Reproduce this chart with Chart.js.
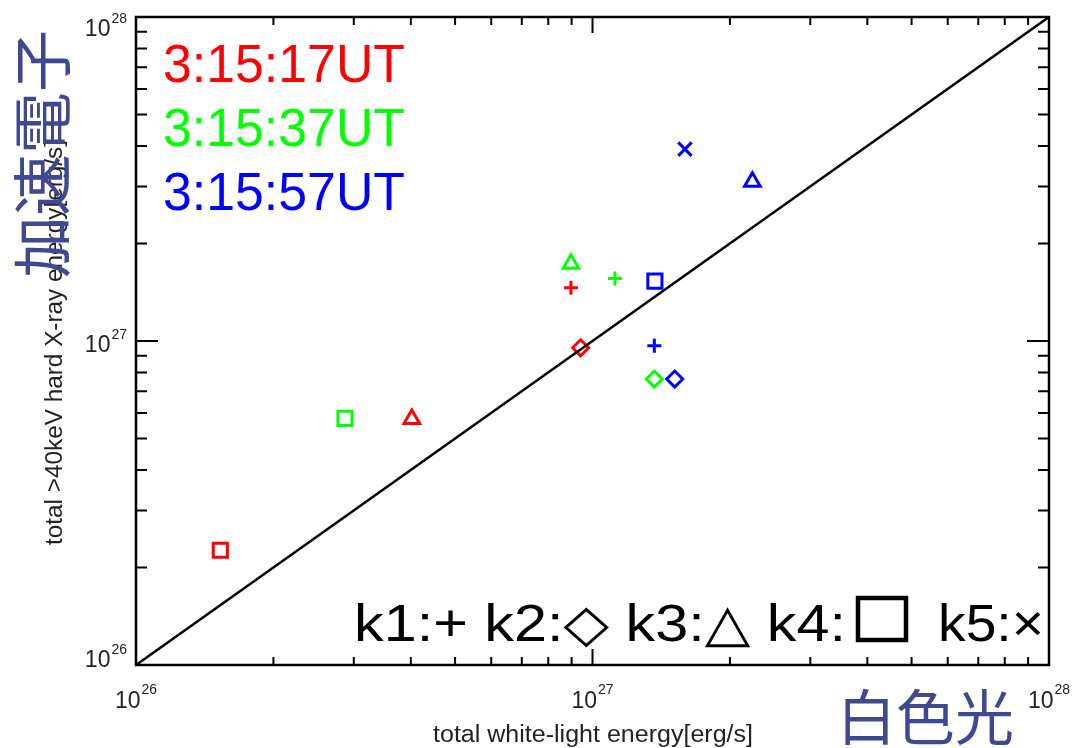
<!DOCTYPE html>
<html>
<head>
<meta charset="utf-8">
<script src="https://cdn.jsdelivr.net/npm/chart.js@4.4.0/dist/chart.umd.min.js"></script>
<style>
body { margin: 0; background: #fff; }
</style>
</head>
<body>
<canvas id="myChart" width="1073" height="748"></canvas>
<script>
// k1..k5 markers, one series per time
const kinds = ['k1', 'k2', 'k3', 'k4', 'k5'];
const kindStyles = ['cross', 'rectRot', 'triangle', 'rect', 'crossRot'];
const kindRadius = [7, 8, 9, 10, 9.5];

const times = ['3:15:17UT', '3:15:37UT', '3:15:57UT'];
const timeColors = ['#ff0000', '#00ff00', '#0000ff'];

// white-light energy (x) and >40keV HXR energy (y), erg/s
const redX = [8.97e26, 9.42e26, 4.02e26, 1.53e26, null];
const redY = [1.46e27, 9.53e26, 5.74e26, 2.26e26, null];
const greenX = [1.12e27, 1.366e27, 8.97e26, 2.87e26, null];
const greenY = [1.56e27, 7.63e26, 1.73e27, 5.77e26, null];
const blueX = [1.366e27, 1.514e27, 2.24e27, 1.37e27, 1.594e27];
const blueY = [9.67e26, 7.63e26, 3.1e27, 1.53e27, 3.91e27];

const decadeValues = [1e26, 1e27, 1e28];
const decadeExps = ['26', '27', '28'];

const xTitle = 'total white-light energy[erg/s]';
const yTitle = 'total >40keV hard X-ray energy[erg/s]';
const xTitleJa = '白色光';
const yTitleJa = '加速電子';
const titleJaColor = '#3f4890';

function makeSeries(xs, ys, label, color) {
	const pts = [];
	const styles = [];
	const radii = [];
	for (let i = 0; i < kinds.length; i++) {
		if (xs[i] === null) continue;
		pts.push({ x: xs[i], y: ys[i] });
		styles.push(kindStyles[i]);
		radii.push(kindRadius[i]);
	}
	return {
		label: label,
		data: pts,
		showLine: false,
		pointStyle: styles,
		pointRadius: radii,
		pointBorderWidth: 3,
		borderWidth: 3,
		borderColor: color,
		backgroundColor: 'rgba(0,0,0,0)'
	};
}

// draw text squeezed/stretched to a given width
function fitText(ctx, str, x, y, w) {
	const m = ctx.measureText(str).width;
	ctx.save();
	ctx.translate(x, y);
	ctx.scale(w / m, 1);
	ctx.fillText(str, 0, 0);
	ctx.restore();
}

const framePlugin = {
	id: 'frame',
	afterDraw(chart) {
		const { ctx, chartArea: a, scales } = chart;
		const xs = scales.x;
		const ys = scales.y;
		ctx.save();
		ctx.strokeStyle = '#000';

		// inside ticks on all four sides
		ctx.lineWidth = 2;
		ctx.beginPath();
		for (let d = 26; d <= 28; d++) {
			for (let m = 1; m <= 9; m++) {
				if (d === 28 && m > 1) break;
				const v = m * Math.pow(10, d);
				const major = m === 1;
				const px = xs.getPixelForValue(v);
				const py = ys.getPixelForValue(v);
				const lx = major ? 16 : 8;
				const ly = major ? 22 : 11;
				ctx.moveTo(px, a.bottom); ctx.lineTo(px, a.bottom - lx);
				ctx.moveTo(px, a.top); ctx.lineTo(px, a.top + lx);
				ctx.moveTo(a.left, py); ctx.lineTo(a.left + ly, py);
				ctx.moveTo(a.right, py); ctx.lineTo(a.right - ly, py);
			}
		}
		ctx.stroke();

		ctx.lineWidth = 2.5;
		ctx.strokeRect(a.left, a.top, a.right - a.left, a.bottom - a.top);

		// tick labels 10^n
		ctx.fillStyle = '#222';
		ctx.textBaseline = 'alphabetic';
		const bigFont = '23px "Liberation Sans", Arial, sans-serif';
		const supFont = '14px "Liberation Sans", Arial, sans-serif';
		for (let i = 0; i < decadeValues.length; i++) {
			ctx.font = bigFont;
			const w10 = ctx.measureText('10').width;
			ctx.font = supFont;
			const wExp = ctx.measureText(decadeExps[i]).width;
			const total = w10 + wExp + 1;

			// x axis
			const px = xs.getPixelForValue(decadeValues[i]);
			const bx = px - total / 2;
			ctx.textAlign = 'left';
			ctx.font = bigFont;
			ctx.fillText('10', bx, 708);
			ctx.font = supFont;
			ctx.fillText(decadeExps[i], bx + w10 + 1, 694);

			// y axis, centred on tick but kept inside the frame
			const py = ys.getPixelForValue(decadeValues[i]);
			let base = py + 11;
			base = Math.max(base, a.top + 19);
			base = Math.min(base, a.bottom + 2);
			const rx = a.left - 9;
			ctx.font = supFont;
			ctx.fillText(decadeExps[i], rx - wExp, base - 13);
			ctx.font = bigFont;
			ctx.fillText('10', rx - wExp - 1 - w10, base);
		}

		// axis titles
		ctx.fillStyle = '#222';
		ctx.font = '23px "Liberation Sans", Arial, sans-serif';
		ctx.textAlign = 'left';
		fitText(ctx, xTitle, 433, 742, 320);
		ctx.save();
		ctx.translate(62, 545);
		ctx.rotate(-Math.PI / 2);
		fitText(ctx, yTitle, 0, 0, 405);
		ctx.restore();

		// japanese titles
		ctx.fillStyle = titleJaColor;
		ctx.font = '60px "Noto Sans CJK JP", sans-serif';
		ctx.textBaseline = 'middle';
		fitText(ctx, xTitleJa, 837, 717, 177);
		ctx.save();
		ctx.translate(42, 278);
		ctx.rotate(-Math.PI / 2);
		fitText(ctx, yTitleJa, 0, 0, 248);
		ctx.restore();

		// time legend
		ctx.textBaseline = 'alphabetic';
		ctx.font = '53px "Liberation Sans", "DejaVu Sans", sans-serif';
		for (let i = 0; i < times.length; i++) {
			ctx.fillStyle = timeColors[i];
			fitText(ctx, times[i], 163, 82 + i * 64, 242);
		}

		// marker legend
		ctx.fillStyle = '#000';
		ctx.font = '52px "Liberation Sans", "DejaVu Sans", sans-serif';
		fitText(ctx, 'k1:+ k2:\u25C7 k3:\u25B3 k4:', 354, 641, 492);
		ctx.lineWidth = 4.5;
		ctx.strokeRect(858, 598, 48, 42);
		fitText(ctx, 'k5:\u00D7', 938, 641, 106);

		ctx.restore();
	}
};

const ctx = document.getElementById('myChart');

new Chart(ctx, {
	type: 'scatter',
	data: {
		datasets: [
			{
				label: 'x=y',
				data: [{ x: 1e26, y: 1e26 }, { x: 1e28, y: 1e28 }],
				showLine: true,
				borderColor: '#000',
				borderWidth: 2.5,
				pointRadius: 0
			},
			makeSeries(redX, redY, times[0], timeColors[0]),
			makeSeries(greenX, greenY, times[1], timeColors[1]),
			makeSeries(blueX, blueY, times[2], timeColors[2])
		]
	},
	options: {
		responsive: false,
		animation: false,
		layout: {
			padding: { left: 136, right: 24, top: 17, bottom: 83 }
		},
		plugins: {
			legend: { display: false },
			tooltip: { enabled: false }
		},
		scales: {
			x: { type: 'logarithmic', min: 1e26, max: 1e28, display: false },
			y: { type: 'logarithmic', min: 1e26, max: 1e28, display: false }
		}
	},
	plugins: [framePlugin]
});
</script>
</body>
</html>
